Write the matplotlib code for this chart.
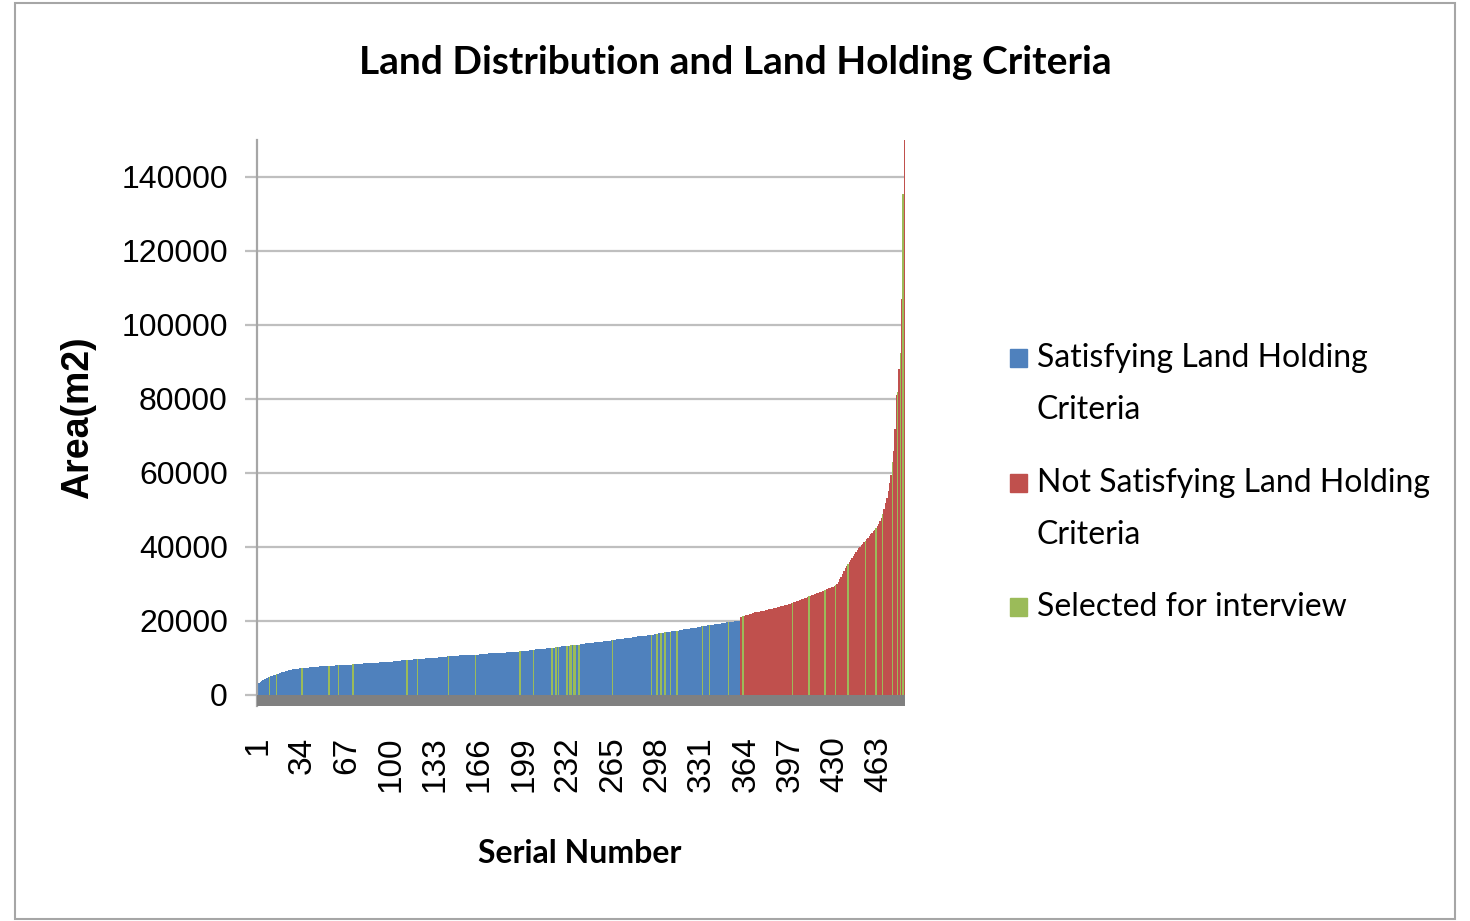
import numpy as np
import matplotlib
matplotlib.use("Agg")
import matplotlib.pyplot as plt
from matplotlib.patches import Rectangle

# -------------------- Data --------------------

# area of each plot in m2, sorted ascending, serial 1..482
area = [
    # 1-20
    2700, 3200, 3500, 3800, 4000, 4200, 4400, 4600, 4800, 4900,
    5100, 5200, 5400, 5500, 5600, 5700, 5900, 6000, 6100, 6200,
    # 21-40
    6300, 6400, 6500, 6600, 6700, 6800, 6900, 7000, 7000, 7100,
    7100, 7200, 7200, 7300, 7300, 7300, 7400, 7400, 7400, 7500,
    # 41-60
    7500, 7500, 7600, 7600, 7600, 7600, 7700, 7700, 7700, 7700,
    7800, 7800, 7800, 7800, 7900, 7900, 7900, 7900, 8000, 8000,
    # 61-80
    8000, 8000, 8000, 8100, 8100, 8100, 8100, 8200, 8200, 8200,
    8200, 8300, 8300, 8300, 8300, 8400, 8400, 8400, 8400, 8500,
    # 81-100
    8500, 8500, 8500, 8600, 8600, 8600, 8600, 8700, 8700, 8700,
    8700, 8800, 8800, 8800, 8900, 8900, 8900, 9000, 9000, 9000,
    # 101-120
    9000, 9100, 9100, 9100, 9200, 9200, 9200, 9300, 9300, 9300,
    9400, 9400, 9400, 9500, 9500, 9500, 9600, 9600, 9600, 9700,
    # 121-140
    9700, 9700, 9800, 9800, 9800, 9900, 9900, 9900, 10000, 10000,
    10000, 10000, 10100, 10100, 10100, 10200, 10200, 10200, 10300, 10300,
    # 141-160
    10300, 10400, 10400, 10400, 10500, 10500, 10500, 10600, 10600, 10600,
    10700, 10700, 10700, 10700, 10800, 10800, 10800, 10800, 10800, 10800,
    # 161-180
    10800, 10800, 10900, 10900, 10900, 11000, 11000, 11000, 11000, 11100,
    11100, 11100, 11200, 11200, 11200, 11200, 11300, 11300, 11300, 11300,
    # 181-200
    11400, 11400, 11400, 11400, 11400, 11500, 11500, 11500, 11500, 11500,
    11600, 11600, 11700, 11700, 11700, 11800, 11800, 11900, 11900, 12000,
    # 201-220
    12000, 12000, 12100, 12100, 12200, 12200, 12200, 12300, 12300, 12400,
    12400, 12400, 12500, 12500, 12500, 12600, 12600, 12700, 12700, 12700,
    # 221-240
    12800, 12800, 12900, 12900, 13000, 13000, 13100, 13100, 13100, 13200,
    13200, 13300, 13300, 13400, 13400, 13500, 13500, 13500, 13600, 13600,
    # 241-260
    13700, 13700, 13800, 13800, 13900, 13900, 14000, 14000, 14100, 14100,
    14100, 14200, 14200, 14300, 14300, 14400, 14400, 14500, 14500, 14600,
    # 261-280
    14600, 14700, 14700, 14800, 14800, 14900, 14900, 15000, 15000, 15100,
    15100, 15200, 15200, 15300, 15300, 15400, 15400, 15500, 15500, 15600,
    # 281-300
    15600, 15700, 15700, 15800, 15800, 15900, 15900, 16000, 16000, 16000,
    16100, 16200, 16200, 16300, 16300, 16400, 16500, 16500, 16600, 16600,
    # 301-320
    16700, 16700, 16800, 16900, 16900, 17000, 17000, 17100, 17200, 17200,
    17300, 17300, 17400, 17400, 17500, 17600, 17600, 17700, 17700, 17800,
    # 321-340
    17900, 17900, 18000, 18000, 18100, 18200, 18200, 18300, 18400, 18400,
    18500, 18500, 18600, 18700, 18700, 18800, 18900, 18900, 19000, 19000,
    # 341-359
    19100, 19200, 19200, 19300, 19300, 19400, 19400, 19500, 19500, 19600,
    19600, 19700, 19700, 19800, 19800, 19900, 19900, 20000, 20000,
    # 360-379
    21000, 21100, 21200, 21400, 21500, 21600, 21700, 21800, 22000, 22100,
    22200, 22300, 22300, 22400, 22500, 22600, 22700, 22800, 22800, 22900,
    # 380-399
    23000, 23100, 23200, 23300, 23300, 23400, 23500, 23600, 23700, 23800,
    23900, 24000, 24100, 24200, 24300, 24400, 24500, 24700, 24800, 24900,
    # 400-419
    25000, 25200, 25300, 25400, 25600, 25700, 25800, 26000, 26100, 26300,
    26400, 26600, 26700, 26900, 27000, 27200, 27300, 27500, 27600, 27800,
    # 420-439
    27900, 28100, 28200, 28400, 28500, 28700, 28800, 29000, 29100, 29300,
    29500, 29700, 29900, 30500, 31200, 32000, 32700, 33500, 34200, 34900,
    # 440-459
    35400, 36000, 36500, 37100, 37600, 38200, 38700, 39200, 39600, 40000,
    40400, 40800, 41200, 41700, 42100, 42500, 43000, 43400, 43900, 44300,
    # 460-482
    44700, 45200, 45600, 46200, 46900, 47800, 48900, 50200, 51800, 53200,
    55000, 57200, 59500, 63000, 66000, 72000, 81000, 82000, 88000, 92500,
    107000, 135500, 150000,
]

# last serial that satisfies the land holding criteria
last_satisfying = 359

# serial numbers selected for interview
selected = [10, 15, 34, 54, 61, 72, 112, 120, 143, 163, 196, 206, 220, 223,
            225, 231, 233, 234, 236, 237, 240, 265, 294, 298, 301, 304, 308,
            313, 332, 337, 351, 362, 399, 411, 423, 431, 440, 453, 461, 466,
            473, 477, 479, 481]

legend_labels = ['Satisfying Land Holding\nCriteria',
                 'Not Satisfying Land Holding\nCriteria',
                 'Selected for interview']

# -------------------- Style --------------------

c_blue = '#4F81BD'
c_red = '#C0504D'
c_green = '#9BBB59'
grid_color = '#BFBFBF'
title_font = 'Lato'
tick_font = 'Liberation Sans'

# -------------------- Plot --------------------

serial = np.arange(1, len(area) + 1)
area = np.array(area)
colors = np.where(serial <= last_satisfying, c_blue, c_red).astype(object)
for s in selected:
    colors[s - 1] = c_green

fig = plt.figure(figsize=(14.7, 9.21), dpi=100)
ax = fig.add_axes([257 / 1470, 1 - 706 / 921, 648 / 1470, 566 / 921])

ax.bar(serial, area, width=1.0, color=list(colors), linewidth=0, zorder=2)

# grey floor under the bars
ax.axhspan(-3000, 0, color='#808080', zorder=3, linewidth=0)

ax.set_xlim(0.5, len(area) + 0.5)
ax.set_ylim(-3000, 150000)

ax.set_yticks(np.arange(0, 140001, 20000))
ax.yaxis.grid(True, color=grid_color, linewidth=1.6, zorder=0)
ax.tick_params(axis='y', length=9, width=1.6, color=grid_color, pad=12,
               labelsize=23)
for lbl in ax.get_yticklabels():
    lbl.set_fontfamily(tick_font)

ax.set_xticks(serial[::33])
ax.set_xticklabels([str(s) for s in serial[::33]], rotation=90,
                   fontfamily=tick_font, fontsize=24)
ax.tick_params(axis='x', length=0, pad=22)

for side in ['top', 'right', 'bottom']:
    ax.spines[side].set_visible(False)
ax.spines['left'].set_color('#A6A6A6')
ax.spines['left'].set_linewidth(1.6)

fig.text(735 / 1470, 1 - 63 / 921, 'Land Distribution and Land Holding Criteria',
         ha='center', va='center', fontsize=28, fontweight='bold',
         fontfamily=title_font)
fig.text(78 / 1470, 1 - 418 / 921, 'Area(m2)', rotation=90, ha='center',
         va='center', fontsize=27, fontweight='bold', fontfamily=tick_font)
fig.text(580 / 1470, 1 - 853 / 921, 'Serial Number', ha='center',
         va='center', fontsize=23, fontweight='bold', fontfamily=title_font)

# legend drawn by hand so the marker sits on the first line
legend_colors = [c_blue, c_red, c_green]
legend_y = [358, 483, 607]
for label, col, y in zip(legend_labels, legend_colors, legend_y):
    fig.add_artist(Rectangle((1010 / 1470, 1 - (y + 9) / 921), 17 / 1470,
                             18 / 921, transform=fig.transFigure,
                             color=col))
    for k, line in enumerate(label.split('\n')):
        fig.text(1037 / 1470, 1 - (y + 52 * k) / 921, line, ha='left',
                 va='center', fontsize=23, fontfamily=title_font)

# outer chart border
fig.add_artist(Rectangle((15 / 1470, 2 / 921), 1440 / 1470, 916 / 921,
                         transform=fig.transFigure, fill=False,
                         edgecolor='#A6A6A6', linewidth=1.5))

fig.savefig('out.png', dpi=100)
